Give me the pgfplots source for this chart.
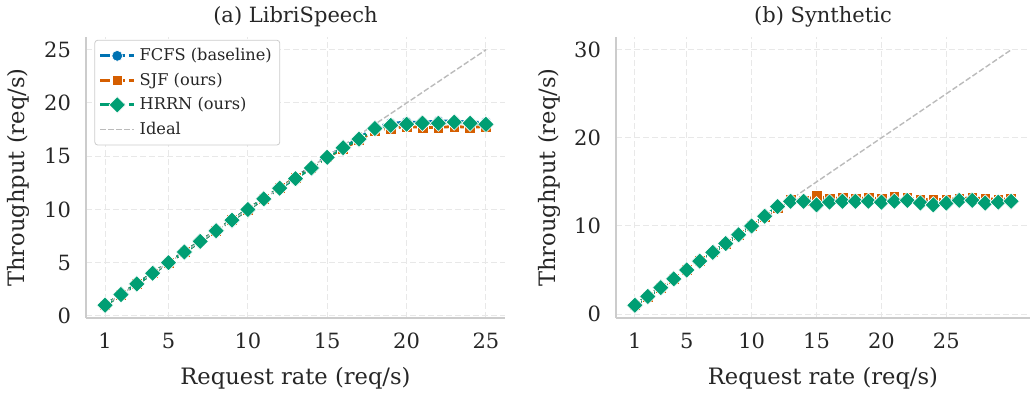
\documentclass[border=0pt]{standalone}
\usepackage{fontspec}
\setmainfont{DejaVu Serif}
\usepackage{pgfplots}
\pgfplotsset{compat=1.18}
\definecolor{cfcfs}{HTML}{0072B2}
\definecolor{csjf}{HTML}{D55E00}
\definecolor{chrrn}{HTML}{009E73}
\definecolor{spine}{HTML}{CCCCCC}
\definecolor{gridc}{HTML}{E8E8E8}
\definecolor{txt}{HTML}{262626}
\definecolor{ideal}{HTML}{BBBBBB}
\pgfplotsset{
  every axis title/.style={font=\fontsize{10.5}{12}\selectfont, text=txt, at={(0.5,1.071)}, anchor=center},
  mystyle/.style={
    scale only axis, height=140.5pt,
    axis lines*=left,
    axis line style={spine, line width=0.7pt},
    major tick length=0pt, tick style={draw=none},
    grid=major, grid style={gridc, dash pattern=on 3pt off 1.5pt, line width=0.5pt},
    ticklabel style={font=\fontsize{10.5}{12}\selectfont, text=txt},
    xticklabel style={yshift=-4pt},
    yticklabel style={xshift=-4pt},
    label style={font=\fontsize{11.3}{13}\selectfont, text=txt},
    xlabel style={at={(axis description cs:0.5,-0.215)}, anchor=center},
    ylabel style={at={(axis description cs:-0.162,0.5)}, anchor=center},
    /pgf/number format/assume math mode=true,
    xlabel={Request rate (req/s)}, ylabel={Throughput (req/s)},
  },
  ser/.style={line width=1.4pt, dash pattern=on 5pt off 2.2pt, mark size=2.7pt, mark options={solid}},
  fcfs/.style={ser, cfcfs, mark=*, mark options={solid, fill=cfcfs, draw=white, line width=0.3pt}},
  sjf/.style={ser, csjf, mark=square*, mark options={solid, fill=csjf, draw=white, line width=0.3pt}},
  hrrn/.style={ser, chrrn, mark=square*, mark size=2.9pt, mark options={solid, rotate=45, fill=chrrn, draw=white, line width=0.3pt}},
  idealst/.style={ideal, line width=0.7pt, dash pattern=on 2.8pt off 1.2pt, mark=none},
}
\begin{document}
\begin{tikzpicture}
\path[use as bounding box] (0,0) rectangle (517pt,196pt);
\begin{axis}[mystyle, at={(43pt,37pt)}, anchor=south west, width=209.5pt,
  title={(a) LibriSpeech},
  xmin=-0.2, xmax=26.2, ymin=-0.2, ymax=26.2,
  xtick={1,5,10,15,20,25}, ytick={0,5,10,15,20,25},
  legend style={at={(0.02,0.99)}, anchor=north west, draw=spine, fill=white, rounded corners=1.5pt,
    font=\fontsize{8.1}{9.5}\selectfont, text=txt, cells={anchor=west}, row sep=0.6pt, inner sep=2pt},
  legend cell align=left]
\addplot[fcfs] coordinates {(1,1) (2,2) (3,3) (4,4) (5,5) (6,6) (7,7) (8,8) (9,9) (10,10) (11,11) (12,12) (13,13) (14,14) (15,15) (16,15.8) (17,16.7) (18,17.7) (19,18.1) (20,18.2) (21,18.2) (22,18.3) (23,18.3) (24,18.2) (25,18.2)};
\addlegendentry{FCFS (baseline)}
\addplot[sjf] coordinates {(1,1) (2,2) (3,3) (4,4) (5,5) (6,6) (7,7) (8,8) (9,9) (10,10) (11,11) (12,12) (13,13) (14,13.9) (15,14.9) (16,15.7) (17,16.5) (18,17.4) (19,17.6) (20,17.8) (21,17.7) (22,17.7) (23,17.8) (24,17.7) (25,17.8)};
\addlegendentry{SJF (ours)}
\addplot[hrrn] coordinates {(1,1) (2,2) (3,3) (4,4) (5,5) (6,6) (7,7) (8,8) (9,9) (10,10) (11,11) (12,12) (13,12.9) (14,13.9) (15,14.9) (16,15.8) (17,16.6) (18,17.6) (19,17.9) (20,18.0) (21,18.1) (22,18.1) (23,18.2) (24,18.1) (25,18.0)};
\addlegendentry{HRRN (ours)}
\addplot[idealst] coordinates {(1,1) (25,25)};
\addlegendentry{Ideal}
\end{axis}
\begin{axis}[mystyle, at={(308pt,37pt)}, anchor=south west, width=207pt,
  title={(b) Synthetic},
  xmin=-0.45, xmax=31.45, ymin=-0.45, ymax=31.45,
  xtick={1,5,10,15,20,25}, ytick={0,10,20,30}]
\addplot[fcfs] coordinates {(1,1) (2,2) (3,3) (4,4) (5,5) (6,6) (7,7) (8,8) (9,9) (10,10) (11,11) (12,12) (13,12.8) (14,12.8) (15,12.9) (16,12.9) (17,12.9) (18,12.9) (19,12.9) (20,12.9) (21,13.0) (22,12.9) (23,12.8) (24,12.8) (25,12.8) (26,12.9) (27,12.9) (28,12.8) (29,12.8) (30,12.8)};
\addplot[sjf] coordinates {(1,1) (2,2) (3,3) (4,4) (5,5) (6,6) (7,7) (8,8) (9,9) (10,10) (11,11) (12,12.1) (13,13.0) (14,12.9) (15,13.4) (16,13.1) (17,13.2) (18,13.1) (19,13.2) (20,13.1) (21,13.3) (22,13.2) (23,13.0) (24,13.0) (25,13.0) (26,13.1) (27,13.2) (28,13.1) (29,13.0) (30,13.1)};
\addplot[hrrn] coordinates {(1,1) (2,2) (3,3) (4,4) (5,5) (6,6) (7,7) (8,8) (9,9) (10,10) (11,11.1) (12,12.2) (13,12.8) (14,12.8) (15,12.4) (16,12.7) (17,12.8) (18,12.8) (19,12.8) (20,12.7) (21,12.8) (22,12.9) (23,12.6) (24,12.4) (25,12.6) (26,12.9) (27,12.9) (28,12.6) (29,12.7) (30,12.8)};
\addplot[idealst] coordinates {(1,1) (30,30)};
\end{axis}
\end{tikzpicture}
\end{document}
